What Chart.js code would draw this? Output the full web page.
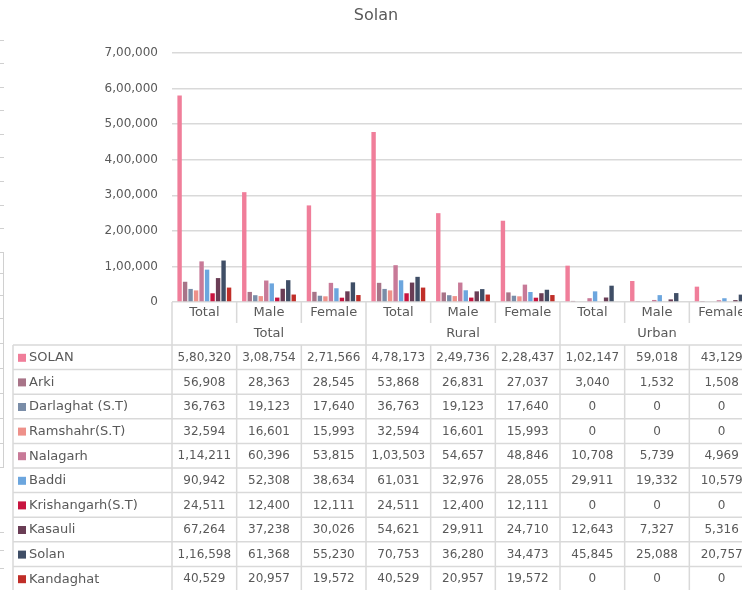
<!DOCTYPE html>
<html>
<head>
<meta charset="utf-8">
<script src="https://cdn.jsdelivr.net/npm/chart.js@4.4.1/dist/chart.umd.min.js"></script>
<style>
  html, body { margin: 0; padding: 0; background: #fff; overflow: hidden; }
  #wrap { width: 780px; height: 590px; }
</style>
</head>
<body>
<div id="wrap"><canvas id="chart" width="780" height="590"></canvas></div>
<script>
// Categories (sub labels) and their groups
const subLabels = ['Total', 'Male', 'Female', 'Total', 'Male', 'Female', 'Total', 'Male', 'Female'];
const groupLabels = ['Total', 'Rural', 'Urban'];

// Series values: Total T/M/F, Rural T/M/F, Urban T/M/F
const solanDist   = [580320, 308754, 271566, 478173, 249736, 228437, 102147, 59018, 43129];
const arki        = [56908, 28363, 28545, 53868, 26831, 27037, 3040, 1532, 1508];
const darlaghat   = [36763, 19123, 17640, 36763, 19123, 17640, 0, 0, 0];
const ramshahr    = [32594, 16601, 15993, 32594, 16601, 15993, 0, 0, 0];
const nalagarh    = [114211, 60396, 53815, 103503, 54657, 48846, 10708, 5739, 4969];
const baddi       = [90942, 52308, 38634, 61031, 32976, 28055, 29911, 19332, 10579];
const krishangarh = [24511, 12400, 12111, 24511, 12400, 12111, 0, 0, 0];
const kasauli     = [67264, 37238, 30026, 54621, 29911, 24710, 12643, 7327, 5316];
const solanTehsil = [116598, 61368, 55230, 70753, 36280, 34473, 45845, 25088, 20757];
const kandaghat   = [40529, 20957, 19572, 40529, 20957, 19572, 0, 0, 0];

const seriesNames = ['SOLAN', 'Arki', 'Darlaghat (S.T)', 'Ramshahr(S.T)', 'Nalagarh', 'Baddi',
  'Krishangarh(S.T)', 'Kasauli', 'Solan', 'Kandaghat'];
const seriesValues = [solanDist, arki, darlaghat, ramshahr, nalagarh, baddi,
  krishangarh, kasauli, solanTehsil, kandaghat];
const seriesColors = ['#F07E9A', '#A87488', '#7A8DA8', '#EE918A', '#C87A98', '#6CA6DE',
  '#C8143F', '#6A3D55', '#3F4E66', '#C02E28'];

const yTicks = [0, 100000, 200000, 300000, 400000, 500000, 600000, 700000];

const FONT = '"DejaVu Sans", sans-serif';
const TXT = '#595959';
const LINE = '#D9D9D9';
const fmt = v => v.toLocaleString('en-IN');

// table under the plot + title + the faint leftovers on the left edge
const dataTable = {
  id: 'dataTable',
  afterDraw(chart) {
    const { ctx, chartArea: { left, right, bottom } } = chart;
    const x = chart.scales.x;
    const n = subLabels.length;
    const w = (right - left) / n;
    const subBottom = bottom + 21;
    const grpBottom = bottom + 43;
    const rowH = 24.6;
    const tableLeft = 13;
    const tableBottom = grpBottom + rowH * seriesNames.length;

    ctx.save();
    ctx.strokeStyle = LINE;
    ctx.lineWidth = 1.5;

    // title
    ctx.fillStyle = TXT;
    ctx.font = '16px ' + FONT;
    ctx.textAlign = 'center';
    ctx.textBaseline = 'middle';
    ctx.fillText('Solan', 376, 16);

    // sub label separators
    ctx.beginPath();
    for (let i = 0; i <= n; i++) {
      const bx = left + i * w;
      ctx.moveTo(bx, bottom);
      ctx.lineTo(bx, i % 3 === 0 ? tableBottom : subBottom);
      if (i % 3 !== 0) { ctx.moveTo(bx, grpBottom); ctx.lineTo(bx, tableBottom); }
    }
    // row lines
    for (let r = 0; r <= seriesNames.length; r++) {
      const y = grpBottom + r * rowH;
      ctx.moveTo(tableLeft, y);
      ctx.lineTo(right, y);
    }
    ctx.moveTo(tableLeft, grpBottom);
    ctx.lineTo(tableLeft, tableBottom);
    ctx.stroke();

    // sub labels
    ctx.font = '13px ' + FONT;
    subLabels.forEach((s, i) => {
      ctx.fillText(s, x.getPixelForValue(i), bottom + 11);
    });
    // group labels
    groupLabels.forEach((g, k) => {
      ctx.fillText(g, left + (k * 3 + 1.5) * w, bottom + 32);
    });

    // rows
    seriesNames.forEach((name, r) => {
      const cy = grpBottom + r * rowH + rowH / 2 + 0.5;
      ctx.fillStyle = seriesColors[r];
      ctx.fillRect(18, cy - 4, 8, 8);
      ctx.fillStyle = TXT;
      ctx.textAlign = 'left';
      ctx.font = '13px ' + FONT;
      ctx.fillText(name, 29, cy);
      ctx.textAlign = 'center';
      ctx.font = '12px ' + FONT;
      seriesValues[r].forEach((v, i) => {
        ctx.fillText(fmt(v), x.getPixelForValue(i), cy);
      });
    });

    // leftover marks of another chart at the left edge
    ctx.strokeStyle = '#D0D0D0';
    ctx.lineWidth = 1;
    ctx.beginPath();
    [40, 63, 87, 110, 134, 157, 181, 205, 228, 532, 550, 568].forEach(y => {
      ctx.moveTo(0, y + 0.5); ctx.lineTo(4, y + 0.5);
    });
    [252, 273, 295, 318, 343, 368, 393, 418, 443, 467].forEach(y => {
      ctx.moveTo(0, y + 0.5); ctx.lineTo(4, y + 0.5);
    });
    ctx.moveTo(3.5, 252); ctx.lineTo(3.5, 467);
    ctx.stroke();
    ctx.restore();
  }
};

new Chart(document.getElementById('chart'), {
  type: 'bar',
  data: {
    labels: subLabels,
    datasets: seriesNames.map((name, i) => ({
      label: name,
      data: seriesValues[i],
      backgroundColor: seriesColors[i],
      borderWidth: 0,
      categoryPercentage: 0.85,
      barPercentage: 0.8
    }))
  },
  options: {
    responsive: false,
    animation: false,
    layout: { padding: { left: 0, right: 26, top: 53, bottom: 288 } },
    plugins: {
      legend: { display: false },
      title: { display: false },
      tooltip: { enabled: false }
    },
    scales: {
      x: { display: false },
      y: {
        min: 0,
        max: 700000,
        afterFit(scale) { scale.width = 172; },
        afterBuildTicks(scale) { scale.ticks = yTicks.map(v => ({ value: v })); },
        border: { display: false },
        grid: { color: LINE, lineWidth: 1.5, drawTicks: false },
        ticks: {
          padding: 14,
          color: TXT,
          font: { family: FONT, size: 12 },
          callback: v => fmt(v)
        }
      }
    }
  },
  plugins: [dataTable]
});
</script>
</body>
</html>
